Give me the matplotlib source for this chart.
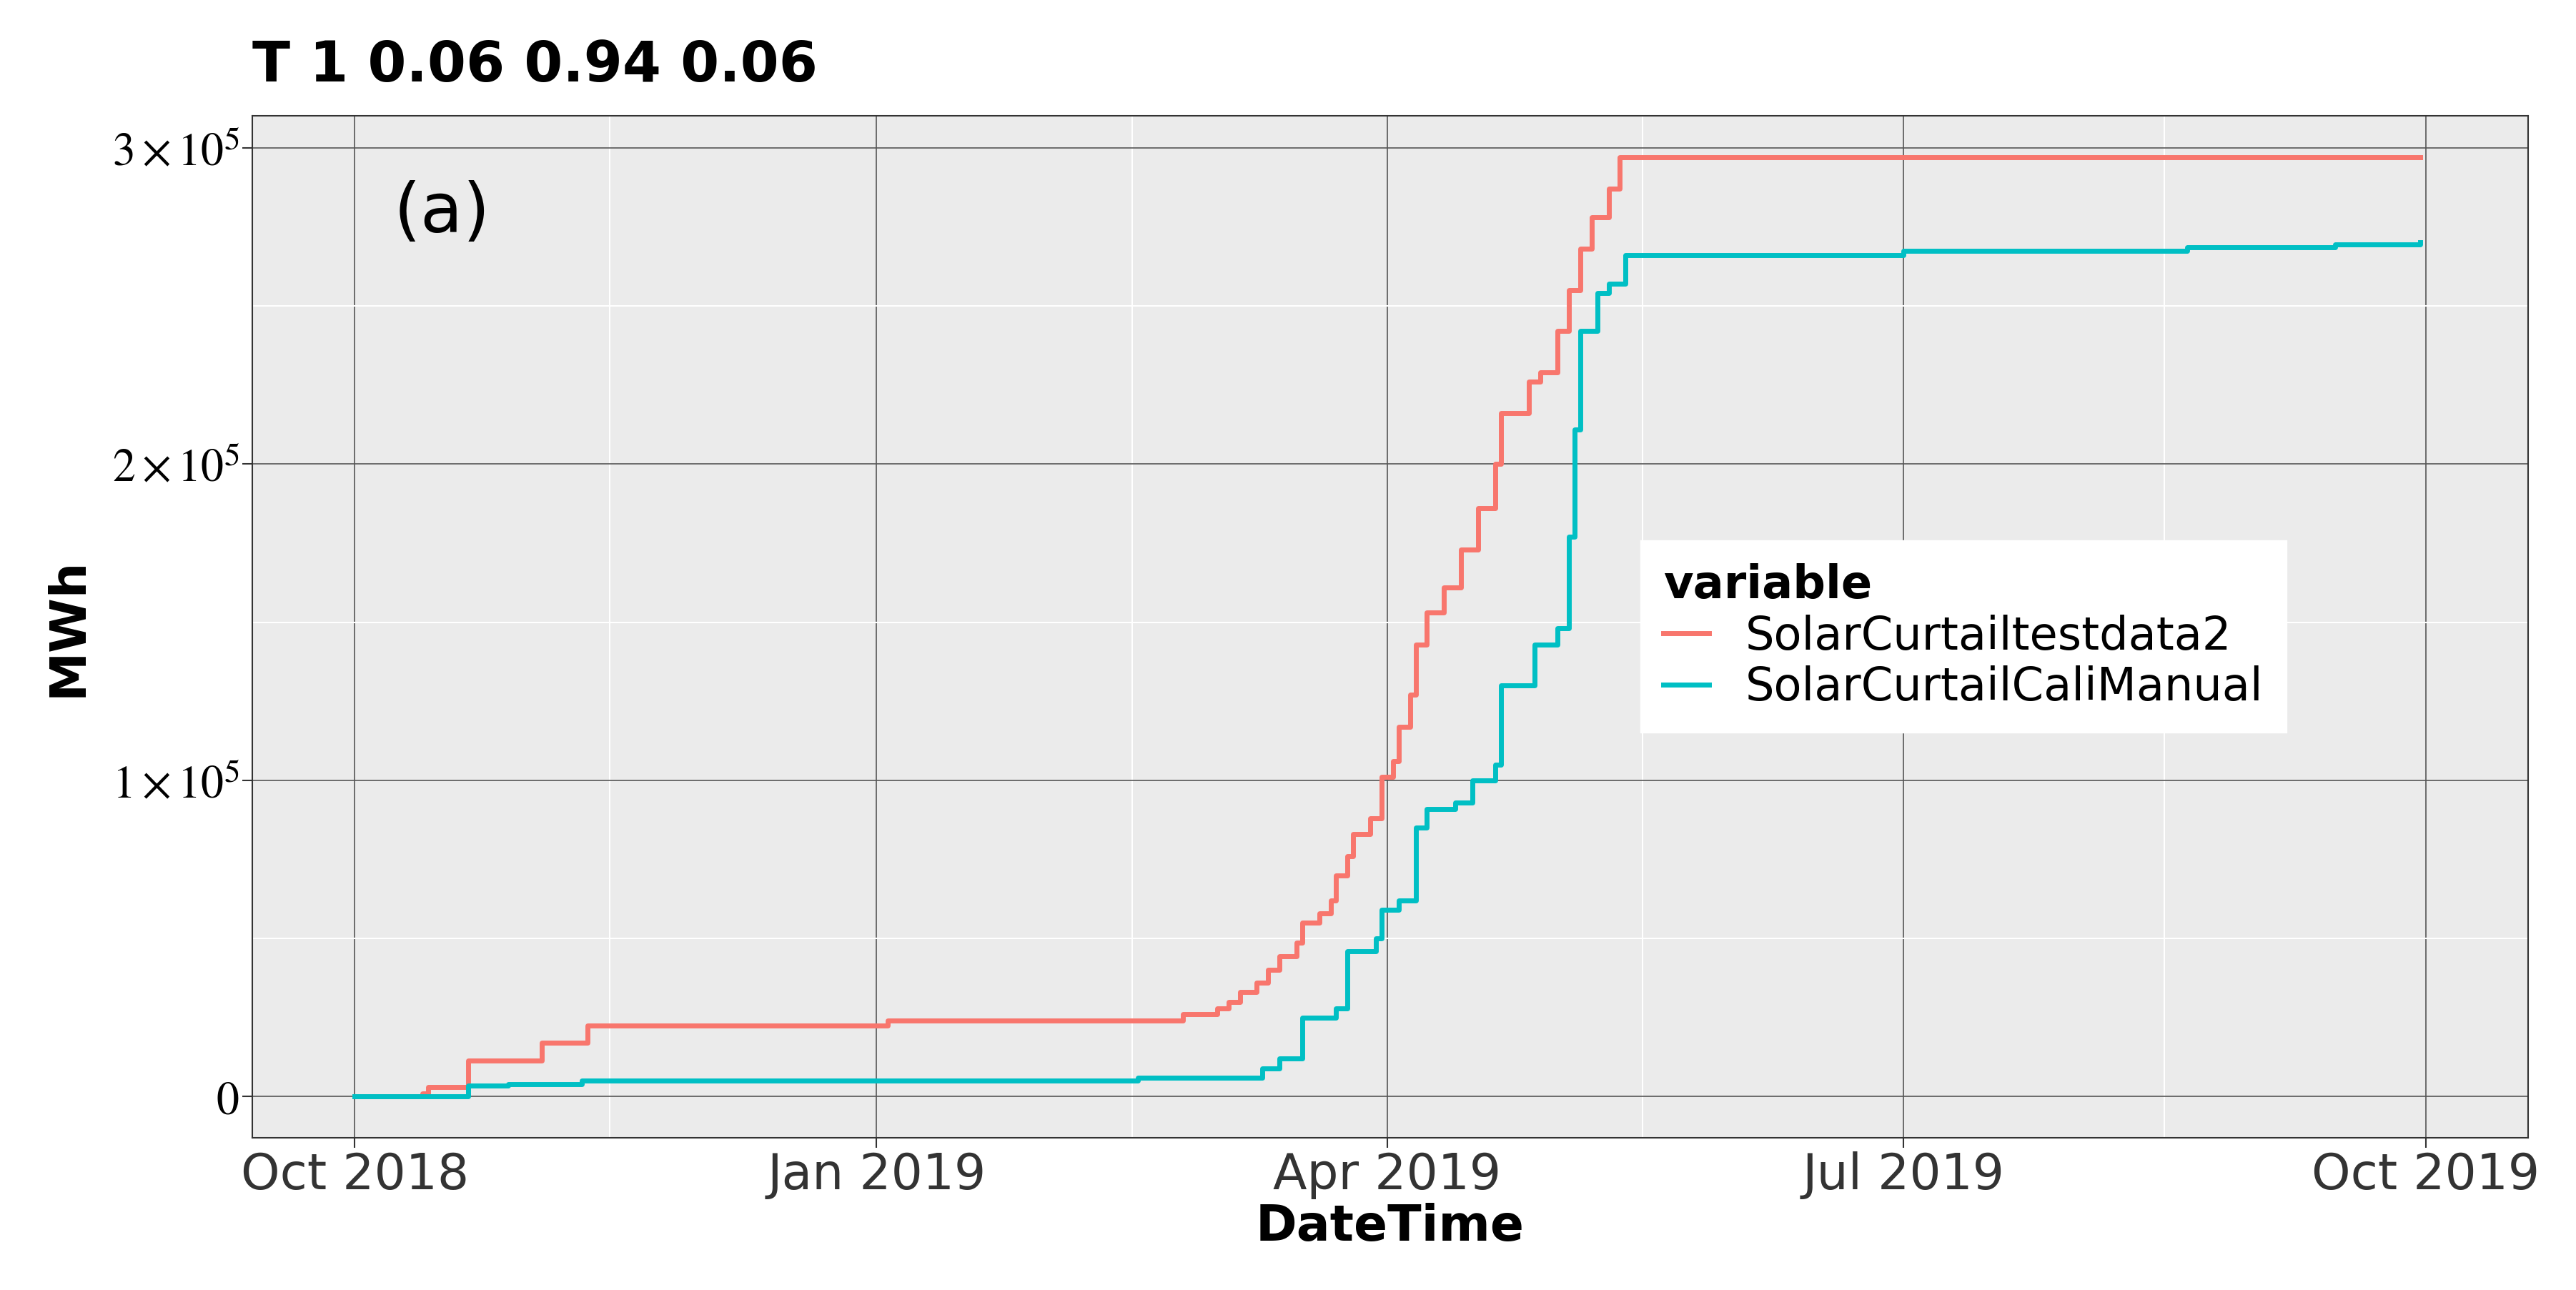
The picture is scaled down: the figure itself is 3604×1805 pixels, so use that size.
import matplotlib
matplotlib.use("Agg")
import matplotlib.pyplot as plt
import pandas as pd

red_dates = ["2018-10-01","2018-10-13","2018-10-14","2018-10-21","2018-11-03","2018-11-11","2019-01-03",
             "2019-02-24","2019-03-02","2019-03-04","2019-03-06","2019-03-09","2019-03-11","2019-03-13",
             "2019-03-16","2019-03-17","2019-03-20","2019-03-22","2019-03-23","2019-03-25","2019-03-26",
             "2019-03-29","2019-03-31","2019-04-02","2019-04-03","2019-04-05","2019-04-06","2019-04-08",
             "2019-04-11","2019-04-14","2019-04-17","2019-04-20","2019-04-21","2019-04-26","2019-04-28",
             "2019-05-01","2019-05-03","2019-05-05","2019-05-07","2019-05-10","2019-05-12","2019-09-30"]
red_vals = [0,1000,3000,11500,17000,22500,24000,26000,28000,30000,33000,36000,40000,44500,48700,55000,
            58000,62000,70000,76000,83000,88000,101000,106000,117000,127000,143000,153000,161000,173000,
            186000,200000,216000,226000,229000,242000,255000,268000,278000,287000,297000,297000]

cyan_dates = ["2018-10-01","2018-10-21","2018-10-28","2018-11-10","2019-02-16","2019-03-10","2019-03-13",
              "2019-03-17","2019-03-23","2019-03-25","2019-03-30","2019-03-31","2019-04-03","2019-04-06",
              "2019-04-08","2019-04-13","2019-04-16","2019-04-20","2019-04-21","2019-04-27","2019-05-01",
              "2019-05-03","2019-05-04","2019-05-05","2019-05-08","2019-05-10","2019-05-13","2019-07-01",
              "2019-08-20","2019-09-15","2019-09-30"]
cyan_vals = [0,3500,4000,5000,6000,9000,12000,25000,28000,46000,50000,59000,62000,85000,91000,93000,
             100000,105000,130000,143000,148000,177000,211000,242000,254000,257000,266000,267500,
             268500,269500,270000]

series_names = ["SolarCurtailtestdata2", "SolarCurtailCaliManual"]
title = "T 1 0.06 0.94 0.06"

plt.rcParams["mathtext.fontset"] = "stix"
fig = plt.figure(figsize=(36.05, 18.05), dpi=100)
ax = fig.add_axes([0.098, 0.118, 0.883, 0.792])
ax.set_facecolor("#EBEBEB")
ax.plot(pd.to_datetime(red_dates), red_vals, drawstyle="steps-post", color="#F8766D", lw=5, label=series_names[0])
ax.plot(pd.to_datetime(cyan_dates), cyan_vals, drawstyle="steps-post", color="#00BFC4", lw=5, label=series_names[1])

ax.set_xlim(pd.Timestamp("2018-09-13"), pd.Timestamp("2019-10-19"))
ax.set_ylim(-13000, 310000)
xt = pd.to_datetime(["2018-10-01","2019-01-01","2019-04-01","2019-07-01","2019-10-01"])
ax.set_xticks(xt)
ax.set_xticklabels(["Oct 2018","Jan 2019","Apr 2019","Jul 2019","Oct 2019"], fontsize=50, color="#333333")
ax.set_xticks(pd.to_datetime(["2018-11-15","2019-02-15","2019-05-16","2019-08-16"]), minor=True)
ax.set_yticks([0,100000,200000,300000])
ax.set_yticklabels(["$0$", r"$1\times10^5$", r"$2\times10^5$", r"$3\times10^5$"], fontsize=46)
ax.set_yticks([50000,150000,250000], minor=True)
ax.grid(which="major", color="#555555", lw=1.2)
ax.grid(which="minor", color="white", lw=1.5)
ax.set_axisbelow(True)
ax.tick_params(which="major", length=10, width=1.5, color="#333333")
ax.tick_params(which="minor", length=0)
for s in ax.spines.values():
    s.set_color("#333333"); s.set_linewidth(1.5)
ax.set_xlabel("DateTime", fontsize=50, fontweight="bold", labelpad=4)
ax.set_ylabel("MWh", fontsize=50, fontweight="bold", labelpad=20)
ax.set_title(title, fontsize=56, fontweight="bold", loc="left", x=0.0, pad=35)
ax.text(0.062, 0.905, "(a)", transform=ax.transAxes, fontsize=70, va="center")

leg = ax.legend(title="variable", loc="upper left", bbox_to_anchor=(0.600, 0.607), fontsize=46,
                title_fontproperties={"size": 46, "weight": "bold"}, frameon=True, fancybox=False,
                edgecolor="white", facecolor="white", framealpha=1, handlelength=1.0, borderpad=0.5,
                labelspacing=0.15)
leg._legend_box.align = "left"

fig.savefig("out.png", dpi=100)
